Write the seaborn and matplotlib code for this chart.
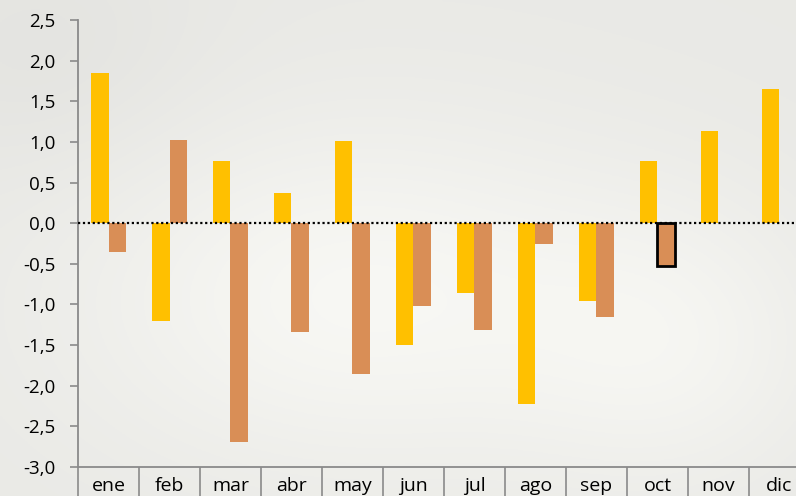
import numpy as np
import pandas as pd
import matplotlib
matplotlib.use("Agg")
import matplotlib.pyplot as plt
import seaborn as sns

months = ["ene", "feb", "mar", "abr", "may", "jun", "jul", "ago", "sep", "oct", "nov", "dic"]
serie_a = [1.85, -1.20, 0.76, 0.37, 1.01, -1.50, -0.86, -2.23, -0.96, 0.77, 1.13, 1.65]
serie_b = [-0.35, 1.02, -2.69, -1.34, -1.86, -1.02, -1.32, -0.26, -1.16, -0.53, np.nan, np.nan]
y_ticks = [-3.0, -2.5, -2.0, -1.5, -1.0, -0.5, 0.0, 0.5, 1.0, 1.5, 2.0, 2.5]
highlight_month = "oct"

df = pd.DataFrame({
    "mes": months * 2,
    "valor": serie_a + serie_b,
    "serie": ["A"] * len(months) + ["B"] * len(months),
})

sns.set_theme(style="white")
plt.rcParams["font.family"] = ["Open Sans", "DejaVu Sans"]

W, H = 796, 496
fig = plt.figure(figsize=(W / 100, H / 100), dpi=100)

# soft blurred background
bg = fig.add_axes([0, 0, 1, 1], zorder=-10)
yy, xx = np.mgrid[0:1:200j, 0:1:320j]
lum = 0.915 + 0.055 * np.exp(-(((xx - 0.45) / 0.35) ** 2 + ((yy - 0.6) / 0.35) ** 2))
lum += 0.035 * np.exp(-(((xx - 0.85) / 0.2) ** 2 + ((yy - 0.7) / 0.3) ** 2))
lum -= 0.02 * np.exp(-(((xx - 0.05) / 0.2) ** 2 + ((yy - 0.1) / 0.25) ** 2))
img = np.dstack([lum, lum, lum * 0.985])
bg.imshow(np.clip(img, 0, 1), aspect="auto", extent=[0, 1, 0, 1], origin="upper")
bg.axis("off")

left = 78 / W
right = 810 / W
bottom = (H - 467) / H
top = (H - 20) / H
ax = fig.add_axes([left, bottom, right - left, top - bottom])
ax.patch.set_alpha(0)

sns.barplot(data=df, x="mes", y="valor", hue="serie", order=months,
            palette={"A": "#FFC000", "B": "#D98E56"}, width=0.57, gap=0,
            saturation=1, legend=False, ax=ax, errorbar=None, linewidth=0)

# highlight bar
hi = months.index(highlight_month)
for p in ax.containers[1]:
    cx = p.get_x() + p.get_width() / 2
    if abs(cx - hi) < 0.5:
        p.set_edgecolor("black")
        p.set_linewidth(2)

ax.axhline(0, color="black", linestyle=(0, (1, 1.2)), linewidth=1.6, zorder=5)

ax.set_ylim(-3.0, 2.5)
ax.set_xlim(-0.5, len(months) - 0.5)
ax.set_yticks(y_ticks)
ax.set_yticklabels([f"{v:.1f}".replace(".", ",") for v in y_ticks], fontsize=13.5, color="black")
ax.set_xlabel("")
ax.set_ylabel("")
ax.set_xticks(range(len(months)))
ax.set_xticklabels(months, fontsize=14, color="black")
ax.set_xticks([i + 0.5 for i in range(-1, len(months))], minor=True)
ax.tick_params(axis="x", which="major", length=0, pad=7, bottom=True)
ax.tick_params(axis="x", which="minor", length=24, width=1.2, color="#8a8a8a",
               direction="out", bottom=True)
ax.tick_params(axis="y", which="major", length=6, width=1.2, color="#8a8a8a", pad=10, left=True)

for s in ["top", "right"]:
    ax.spines[s].set_visible(False)
for s in ["left", "bottom"]:
    ax.spines[s].set_color("#8a8a8a")
    ax.spines[s].set_linewidth(1.3)

fig.savefig("out.png", dpi=100)
